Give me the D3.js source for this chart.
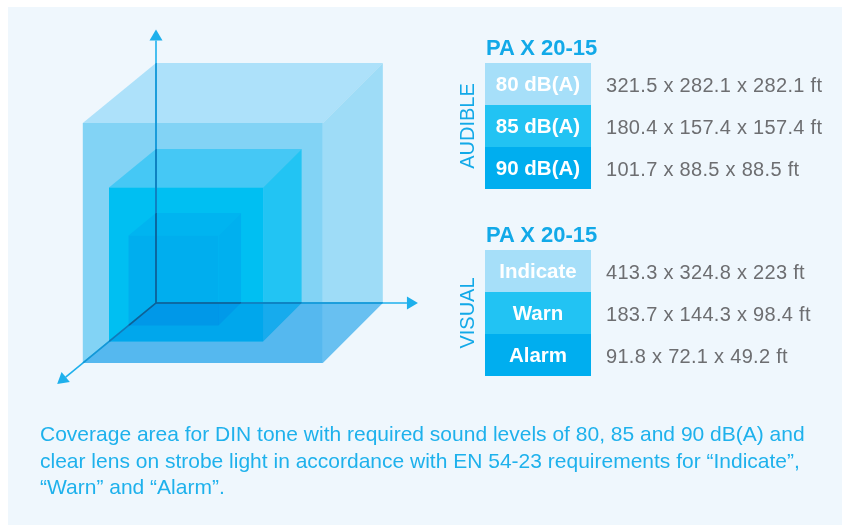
<!DOCTYPE html>
<html>
<head>
<meta charset="utf-8">
<script src="https://cdn.jsdelivr.net/npm/d3@7"></script>
<style>
  html, body { margin: 0; background: #ffffff; overflow: hidden; }
  svg { display: block; font-family: "Liberation Sans", Arial, sans-serif; }
</style>
</head>
<body>
<script>
// data for the two coverage tables
var productName = "PA X 20-15";
var audibleLabels = ["80 dB(A)", "85 dB(A)", "90 dB(A)"];
var audibleDims = [[321.5, 282.1, 282.1], [180.4, 157.4, 157.4], [101.7, 88.5, 88.5]];
var visualLabels = ["Indicate", "Warn", "Alarm"];
var visualDims = [[413.3, 324.8, 223], [183.7, 144.3, 98.4], [91.8, 72.1, 49.2]];
var groupNames = ["AUDIBLE", "VISUAL"];

// relative size of the three nested coverage cubes (largest = 1)
var cubeSizes = [1, 0.642, 0.375];
// how far each axis runs, in cube units: x, y, z
var axisExtent = [1.155, 1.14, 1.35];

var captionLines = [
  "Coverage area for DIN tone with required sound levels of 80, 85 and 90 dB(A) and",
  "clear lens on strobe light in accordance with EN 54-23 requirements for \u201cIndicate\u201d,",
  "\u201cWarn\u201d and \u201cAlarm\u201d."
];

// styles
var rowColors = ["#a6dff9", "#22c3f3", "#00aeef"];
var cubeColors = [
  {top: "#ade1fa", right: "#9edcf7", front: "#82d3f5"},
  {top: "#45c8f5", right: "#22c4f3", front: "#00bff2"},
  {top: "#00b4f0", right: "#00b0ef", front: "#00aeee"}
];
var bottomTint = "#a7dff9";
var axisColors = ["#1eb0ec", "#1596d6", "#0d7cbb", "#0c6298"];
var blue = "#12a9e8";

var w = 842, h = 525;
var svg = d3.select("body").append("svg")
  .attr("width", w)
  .attr("height", h);

svg.append("rect")  // pale panel
  .attr("x", 8).attr("y", 7)
  .attr("width", w).attr("height", h)
  .attr("fill", "#eff7fd");

/* ---- the 3d cube drawing ---- */
var size = d3.scaleLinear().domain([0, 1]).range([0, 240]);
var ox = 156, oy = 303;        // origin of the three axes
var backShrink = 0.945;       // back face is a bit narrower (perspective)
var depthK = 0.305;           // depth offset relative to size
var slope = 0.82;             // z axis goes down-left

// x, y, z in pixels -> screen (z=0 is the back plane at the origin)
function project(x, y, z) {
  var sx = z > 0 ? 1 : backShrink;
  return [ox + x * sx - z, oy - y + z * slope];
}

function cubePoints(s) {
  var W = size(s), D = W * depthK;
  return {
    bl0: project(0, 0, 0), br0: project(W, 0, 0), tl0: project(0, W, 0), tr0: project(W, W, 0),
    bl1: project(0, 0, D), br1: project(W, 0, D), tl1: project(0, W, D), tr1: project(W, W, D)
  };
}

var line = d3.line();
var cubes = svg.append("g");

cubeSizes.forEach(function(s, i) {
  var p = cubePoints(s);
  var c = cubeColors[i];
  var g = cubes.append("g");
  g.append("path").attr("d", line([p.tl1, p.tl0, p.tr0, p.tr1]) + "Z").attr("fill", c.top);
  g.append("path").attr("d", line([p.tr1, p.tr0, p.br0, p.br1]) + "Z").attr("fill", c.right);
  g.append("path").attr("d", line([p.tl1, p.tr1, p.br1, p.bl1]) + "Z").attr("fill", c.front);
  g.append("path").attr("d", line([p.bl0, p.br0, p.br1, p.bl1]) + "Z")
    .attr("fill", bottomTint)
    .style("mix-blend-mode", "multiply");
  // silhouette used to darken the axes inside this cube
  svg.append("clipPath").attr("id", "clip" + i)
    .append("path")
    .attr("d", line([p.bl1, p.tl1, p.tl0, p.tr0, p.br0, p.br1]) + "Z");
});

// axis tips
var W0 = size(1);
var tips = [
  project(W0 * axisExtent[0], 0, 0),
  project(0, W0 * axisExtent[1], 0),
  project(0, 0, W0 * depthK * axisExtent[2])
];

var arrowLen = 11, arrowHalf = 6.5;

function drawAxes(g, color, withHeads) {
  tips.forEach(function(t) {
    var dx = t[0] - ox, dy = t[1] - oy;
    var len = Math.sqrt(dx * dx + dy * dy);
    var ux = dx / len, uy = dy / len;
    var base = [t[0] - ux * arrowLen, t[1] - uy * arrowLen];
    g.append("path")
      .attr("d", line([[ox, oy], base]))
      .attr("stroke", color)
      .attr("stroke-width", 1.6)
      .attr("fill", "none");
    if (withHeads) {
      g.append("path")
        .attr("d", line([t, [base[0] - uy * arrowHalf, base[1] + ux * arrowHalf],
                            [base[0] + uy * arrowHalf, base[1] - ux * arrowHalf]]) + "Z")
        .attr("fill", color);
    }
  });
}

drawAxes(svg.append("g"), axisColors[0], true);
cubeSizes.forEach(function(s, i) {
  drawAxes(svg.append("g").attr("clip-path", "url(#clip" + i + ")"), axisColors[i + 1], false);
});

/* ---- the two tables ---- */
var fmt = function(d) { return d.join(" x ") + " ft"; };

function drawTable(top, labels, dims, group) {
  var y = d3.scaleBand().domain(labels).range([top, top + 126]);
  var g = svg.append("g");

  g.append("text")
    .attr("x", 486).attr("y", top - 8)
    .attr("fill", blue)
    .attr("font-size", 22)
    .attr("font-weight", "bold")
    .text(productName);

  g.selectAll("rect.row")
    .data(labels)
    .enter()
    .append("rect")
    .attr("class", "row")
    .attr("x", 485)
    .attr("y", function(d) { return y(d); })
    .attr("width", 106)
    .attr("height", y.bandwidth())
    .attr("fill", function(d, i) { return rowColors[i]; });

  g.selectAll("text.lab")
    .data(labels)
    .enter()
    .append("text")
    .attr("class", "lab")
    .attr("x", 538)
    .attr("y", function(d) { return y(d) + y.bandwidth() / 2 + 7; })
    .attr("text-anchor", "middle")
    .attr("fill", "#ffffff")
    .attr("font-size", 20.5)
    .attr("font-weight", "bold")
    .text(function(d) { return d; });

  g.selectAll("text.val")
    .data(dims)
    .enter()
    .append("text")
    .attr("class", "val")
    .attr("x", 606)
    .attr("y", function(d, i) { return y(labels[i]) + y.bandwidth() / 2 + 8; })
    .attr("fill", "#6d6e71")
    .attr("font-size", 20)
    .attr("letter-spacing", 0.3)
    .text(fmt);

  g.append("text")
    .attr("transform", "translate(474," + (top + 63) + ") rotate(-90)")
    .attr("text-anchor", "middle")
    .attr("fill", blue)
    .attr("font-size", 20)
    .text(group);
}

drawTable(63, audibleLabels, audibleDims, groupNames[0]);
drawTable(250, visualLabels, visualDims, groupNames[1]);

/* ---- caption ---- */
svg.append("g").selectAll("text")
  .data(captionLines)
  .enter()
  .append("text")
  .attr("x", 40)
  .attr("y", function(d, i) { return 441 + i * 26.5; })
  .attr("fill", "#1eb1ec")
  .attr("font-size", 21)
  .text(function(d) { return d; });
</script>
</body>
</html>
